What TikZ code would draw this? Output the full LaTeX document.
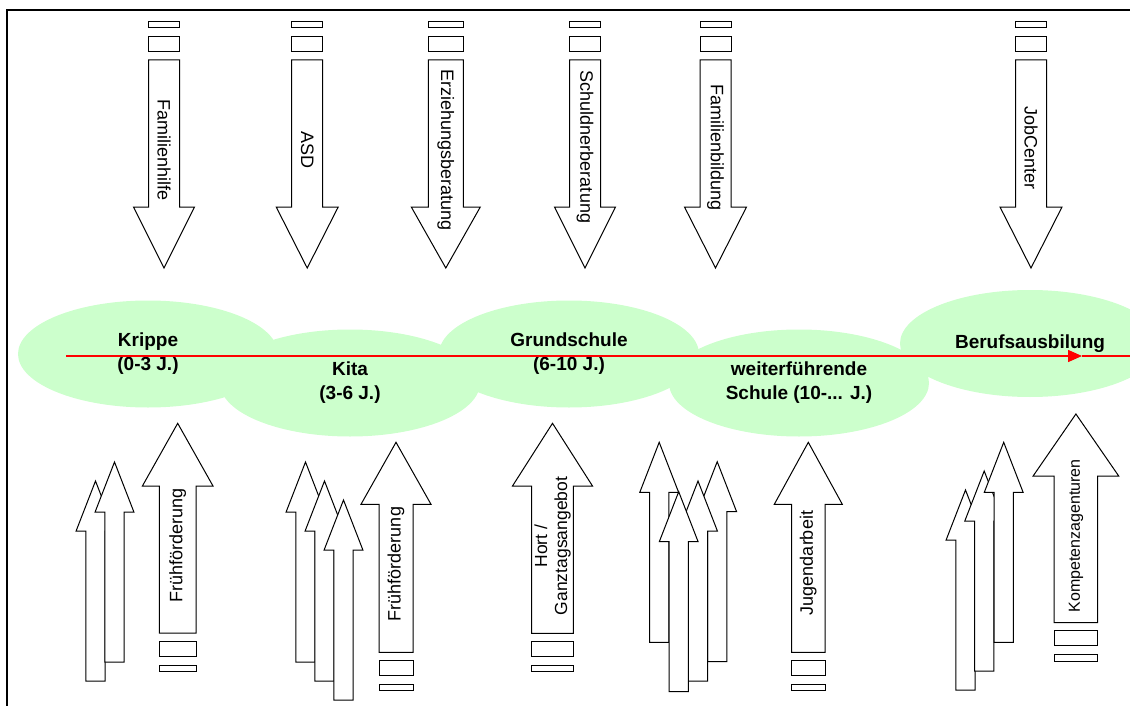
\documentclass[tikz,border=0pt]{standalone}
\usepackage{fontspec}
\setmainfont{Liberation Sans}
\usetikzlibrary{shapes.geometric, arrows.meta, positioning}
\definecolor{hellgruen}{RGB}{204,255,204}
\tikzstyle{phase} = [ellipse, fill=hellgruen, minimum width=260pt, minimum height=107pt, inner sep=0pt, align=center, font=\fontsize{19}{24}\selectfont\bfseries]
\tikzstyle{pfeil} = [draw=black, fill=white, line width=1pt]
\tikzstyle{textrunter} = [rotate=-90, inner sep=0pt, font=\fontsize{18}{21}\selectfont]
\tikzstyle{texthoch} = [rotate=90, inner sep=0pt, align=center, font=\fontsize{18}{20}\selectfont]
\tikzstyle{zeitachse} = [red, line width=1.5pt]
% block arrow: mitte x, ende, kopfansatz, spitze, halbe schaftbreite, halbe kopfbreite
\newcommand{\blockpfeil}[6]{\draw [pfeil] ({#1-#5},#2) -- ({#1-#5},#3) -- ({#1-#6},#3) -- (#1,#4) -- ({#1+#6},#3) -- ({#1+#5},#3) -- ({#1+#5},#2) -- cycle;}
% the two small bars behind the arrow end
\newcommand{\balken}[4]{\draw [pfeil] ({#1-#3},{#2+(#4)*8}) rectangle ({#1+#3},{#2+(#4)*23});
	\draw [pfeil] ({#1-#3},{#2+(#4)*32}) rectangle ({#1+#3},{#2+(#4)*38.5});}
\newcommand{\kleinpfeil}[2]{\blockpfeil{#1}{#2+200}{#2+50}{#2}{9.7}{19.4}}

\begin{document}
\begin{tikzpicture}[x=1pt, y=-1pt]
		\useasboundingbox (0,0) rectangle (1130,706);
		\draw [line width=2pt] (7,706) |- (1130,10.5);
		% phasen
		\node (krippe) [phase] at (148,354) {Krippe\\(0-3 J.)};
		\node (kita) [phase] at (350,383) {Kita\\(3-6 J.)};
		\node (grundschule) [phase] at (569,354) {Grundschule\\(6-10 J.)};
		\node (weiterf) [phase] at (799,383) {weiterführende\\Schule (10-... J.)};
		\node (beruf) [phase] at (1030,343.5) {Berufsausbilung};
		\coordinate (zeitanfang) at (66,356);
		\coordinate (zeitspitze) at (1082,356);
		\coordinate (zeitende) at (1130,356);
		\draw [zeitachse, -{Triangle[length=14pt, width=12pt]}] (zeitanfang) -- (zeitspitze);
		\draw [zeitachse] (zeitspitze) -- (zeitende);
		% angebote von oben
		\blockpfeil{164}{60}{207}{268}{15.5}{30.5} \balken{164}{60}{15.5}{-1}
		\blockpfeil{307.2}{60}{207}{268}{15.5}{31} \balken{307.2}{60}{15.5}{-1}
		\blockpfeil{445.8}{60}{207}{268}{17.5}{34.5} \balken{445.8}{60}{17.5}{-1}
		\blockpfeil{585}{60}{207}{268}{15.5}{30.5} \balken{585}{60}{15.5}{-1}
		\blockpfeil{715.5}{60}{207}{268}{15.5}{31} \balken{715.5}{60}{15.5}{-1}
		\blockpfeil{1031}{60}{207}{268}{15.5}{31} \balken{1031}{60}{15.5}{-1}
		\node (familienhilfe) [textrunter] at (164,150) {Familienhilfe};
		\node (asd) [textrunter] at (307.2,150) {ASD};
		\node (erziehung) [textrunter] at (445.8,150) {Erziehungsberatung};
		\node (schuldner) [textrunter] at (585,147) {Schuldnerberatung};
		\node (familienbildung) [textrunter] at (715.5,148) {Familienbildung};
		\node (jobcenter) [textrunter] at (1031,148) {JobCenter};
		% angebote von unten
		\kleinpfeil{95.5}{481} \kleinpfeil{114.5}{462}
		\blockpfeil{177.7}{633}{486}{423.3}{18.3}{35.3} \balken{177.7}{633}{18.3}{1}
		\kleinpfeil{305.5}{462} \kleinpfeil{324.5}{481} \kleinpfeil{343.5}{500}
		\blockpfeil{396}{652.3}{504.3}{442.3}{17}{35} \balken{396}{652.3}{17}{1}
		\blockpfeil{552.5}{633.3}{486}{423.3}{20.8}{40} \balken{552.5}{633.3}{20.8}{1}
		\kleinpfeil{659.2}{442.3} \kleinpfeil{717.2}{461.7} \kleinpfeil{698}{481} \kleinpfeil{678.7}{491.7}
		\blockpfeil{808.3}{652.3}{504.3}{442.3}{16.7}{34} \balken{808.3}{652.3}{16.7}{1}
		\kleinpfeil{965.5}{490} \kleinpfeil{984.2}{471} \kleinpfeil{1003.7}{442.3}
		\blockpfeil{1075.9}{622.7}{476}{414}{21.8}{42.8} \balken{1075.9}{622.7}{21.8}{1}
		\node (fruehA) [texthoch] at (177.7,545.5) {Frühförderung};
		\node (fruehB) [texthoch] at (396,564) {Frühförderung};
		\node (hort) [texthoch, font=\fontsize{17.5}{20}\selectfont] at (552.5,546) {Hort /\\Ganztagsangebot};
		\node (jugendarbeit) [texthoch] at (808.3,563) {Jugendarbeit};
		\node (kompetenz) [texthoch, font=\fontsize{16}{19}\selectfont] at (1075.9,536) {Kompetenzagenturen};
	\end{tikzpicture}
\end{document}
